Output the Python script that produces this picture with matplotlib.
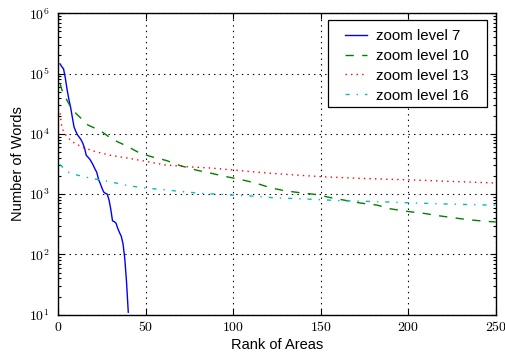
import matplotlib
matplotlib.use("Agg")
import matplotlib.pyplot as plt
from matplotlib.patches import Rectangle
import numpy as np

# ---- data ----
rank_z7 = [1, 2, 3, 4, 5, 6, 7, 8, 9, 10, 11, 12, 13, 14, 15, 16, 17, 18, 19, 20,
           21, 22, 23, 24, 25, 26, 27, 28, 29, 30, 31, 32, 33, 34, 35, 36, 37, 38, 39, 40]
words_z7 = [1.45e5, 1.3e5, 1.2e5, 8.5e4, 5.5e4, 3.8e4, 2.8e4, 1.9e4, 1.3e4, 1.1e4,
            9.6e3, 8.8e3, 8.0e3, 7.0e3, 5.8e3, 4.4e3, 4.1e3, 3.8e3, 3.4e3, 3.0e3,
            2.6e3, 2.3e3, 1.75e3, 1.5e3, 1.25e3, 1.08e3, 1.03e3, 1.0e3, 800, 560,
            360, 350, 330, 270, 230, 200, 150, 85, 35, 11]

rank_z10 = [1, 2, 5, 7, 10, 17, 24, 31, 39, 46, 53, 62, 70, 79, 88, 96, 105, 113,
            122, 130, 139, 148, 156, 165, 173, 182, 190, 200, 209, 217, 226, 235, 244, 250]
words_z10 = [6.9e4, 5.4e4, 3.6e4, 2.8e4, 2.2e4, 1.4e4, 1.13e4, 8.1e3, 6.3e3, 4.9e3,
             4.2e3, 3.6e3, 2.95e3, 2.5e3, 2.2e3, 1.95e3, 1.73e3, 1.52e3, 1.26e3, 1.13e3,
             1.05e3, 980, 870, 780, 710, 660, 570, 515, 480, 440, 405, 375, 355, 345]

rank_z13 = [1, 2, 3, 5, 8, 11, 15, 21, 30, 40, 50, 61, 74, 88, 101, 111, 123, 150,
            174, 200, 226, 250]
words_z13 = [2.2e4, 1.3e4, 1.1e4, 8.9e3, 7.4e3, 6.6e3, 5.8e3, 5.1e3, 4.4e3, 3.95e3,
             3.5e3, 3.05e3, 2.85e3, 2.7e3, 2.5e3, 2.35e3, 2.2e3, 1.95e3, 1.82e3,
             1.73e3, 1.62e3, 1.53e3]

rank_z16 = [1, 5, 10, 19, 29, 40, 50, 61, 71, 82, 91, 101, 111, 123, 142, 161, 180,
            200, 219, 250]
words_z16 = [3.1e3, 2.35e3, 2.1e3, 1.82e3, 1.62e3, 1.38e3, 1.26e3, 1.18e3, 1.1e3,
             1.03e3, 1.0e3, 960, 930, 870, 830, 780, 755, 720, 690, 655]

series_labels = ["zoom level 7", "zoom level 10", "zoom level 13", "zoom level 16"]
x_ticks = [0, 50, 100, 150, 200, 250]
y_exps = [1, 2, 3, 4, 5, 6]
x_label = "Rank of Areas"
y_label = "Number of Words"

plt.rcParams["mathtext.fontset"] = "cm"
plt.rcParams["lines.scale_dashes"] = False
plt.rcParams["lines.dashed_pattern"] = [6, 6]
plt.rcParams["lines.dotted_pattern"] = [1, 3]
plt.rcParams["lines.dashdot_pattern"] = [3, 5, 1, 5]
sans = ["Liberation Sans", "DejaVu Sans"]

W, H = 506, 354
fig = plt.figure(figsize=(W / 100, H / 100), dpi=100)
ax = fig.add_axes([0.1152, 0.111, 0.8644, 0.8514])

ax.plot(rank_z7, words_z7, "-", color=(0, 0, 1), lw=1.0, label=series_labels[0])
ax.plot(rank_z10, words_z10, "--", color=(0, 0.5, 0), lw=1.0, label=series_labels[1])
ax.plot(rank_z13, words_z13, ":", color=(1, 0, 0), lw=1.0, label=series_labels[2])
ax.plot(rank_z16, words_z16, "-.", color=(0, 0.75, 0.75), lw=1.0, label=series_labels[3])

ax.set_yscale("log")
ax.set_xlim(0, 250)
ax.set_ylim(10, 1e6)

ax.set_xticks(x_ticks)
ax.set_xticklabels([r"$%d$" % v for v in x_ticks], fontsize=10)
ax.set_yticks([10.0 ** e for e in y_exps])
ax.set_yticklabels([r"$10^{%d}$" % e for e in y_exps], fontsize=10)
ax.yaxis.set_minor_locator(matplotlib.ticker.LogLocator(base=10, subs=np.arange(2, 10), numticks=20))
ax.yaxis.set_minor_formatter(matplotlib.ticker.NullFormatter())

ax.tick_params(which="both", direction="in", top=True, right=True, width=0.8)
ax.tick_params(which="major", length=4)
ax.tick_params(axis="x", which="major", pad=4)
ax.tick_params(axis="y", which="major", pad=6)
ax.tick_params(which="minor", length=2)

ax.grid(True, which="major", linestyle=":", color="black", linewidth=0.8)

for s in ax.spines.values():
    s.set_linewidth(1.0)

ax.set_xlabel(x_label, fontsize=10.5, family=sans, labelpad=3)
ax.set_ylabel(y_label, fontsize=10.5, family=sans, labelpad=3)

# legend (old-style box: wider horizontal than vertical padding)
leg = ax.legend(loc="upper left", prop={"family": sans, "size": 10.8}, frameon=False,
                handlelength=1.47, handletextpad=0.6, borderpad=0.0,
                labelspacing=0.39, borderaxespad=0.0,
                bbox_to_anchor=(345 / W, 1 - 29 / H), bbox_transform=fig.transFigure)
leg.set_zorder(6)
box = Rectangle((328 / W, 1 - 107 / H), 159 / W, 87 / H, transform=fig.transFigure,
                facecolor="white", edgecolor="black", linewidth=0.9, zorder=5.5)
ax.add_artist(box)
box.set_clip_on(False)

fig.savefig("out.png", dpi=100)
